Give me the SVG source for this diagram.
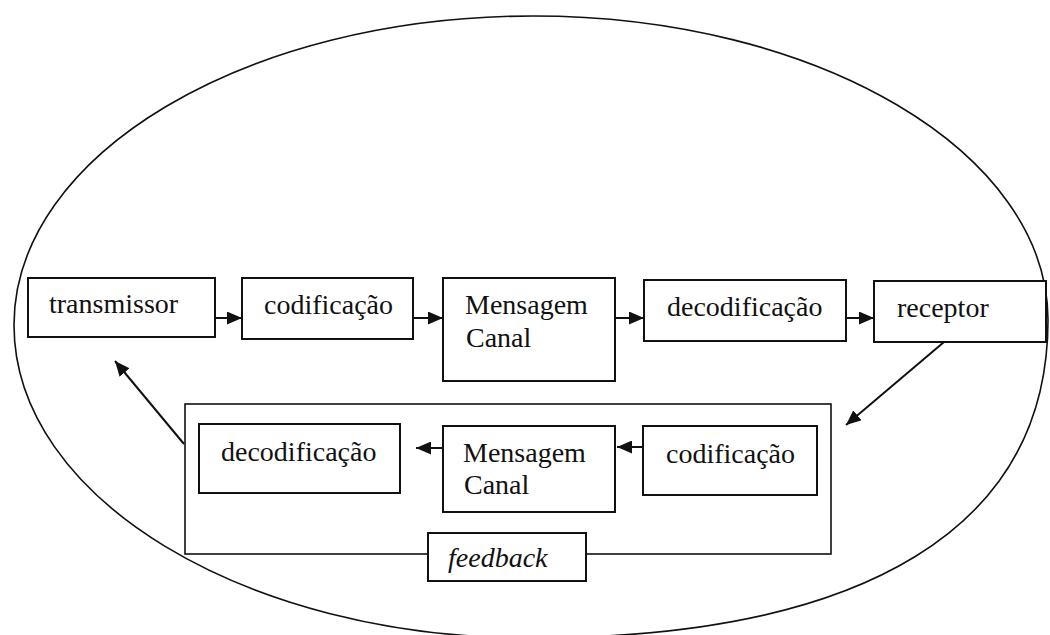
<svg xmlns="http://www.w3.org/2000/svg" width="1050" height="635" viewBox="0 0 1050 635">
  <style>
    .box { fill: #fff; stroke: #111; stroke-width: 2; }
    .frame { fill: none; stroke: #111; stroke-width: 1.6; }
    .lbl { font-family: "Liberation Serif", "Times New Roman", serif; font-size: 28px; fill: #111; }
    .it { font-style: italic; }
    .conn { fill: none; stroke: #111; stroke-width: 2; }
  </style>
  <defs>
    <marker id="ah" viewBox="0 0 15 13" refX="15" refY="6.5" markerWidth="15" markerHeight="13" markerUnits="userSpaceOnUse" orient="auto">
      <path d="M0,0 L15,6.5 L0,13 z" fill="#111"/>
    </marker>
  </defs>
  <rect width="1050" height="635" fill="#fff"/>

  <path id="ellipse" class="frame" d="M14,325 C14,154.3 246.4,16 533,16 C817.4,16 1048,152.1 1048,320 C1048,526.7 866.7,638 530,638 C245,638 14,497.9 14,325 Z"/>

  <g id="feedback-container">
    <rect class="frame" x="185" y="404" width="646" height="150"/>
  </g>

  <g id="transmissor">
    <rect class="box" x="28" y="278" width="187" height="59"/>
    <text class="lbl" x="49" y="313">transmissor</text>
  </g>
  <g id="codificacao1">
    <rect class="box" x="242" y="278" width="171" height="61"/>
    <text class="lbl" x="264" y="314">codificação</text>
  </g>
  <g id="mensagem1">
    <rect class="box" x="443" y="278" width="172" height="103"/>
    <text class="lbl" x="465" y="314">Mensagem</text>
    <text class="lbl" x="466" y="347">Canal</text>
  </g>
  <g id="decodificacao1">
    <rect class="box" x="644" y="280" width="202" height="61"/>
    <text class="lbl" x="667" y="316">decodificação</text>
  </g>
  <g id="receptor">
    <rect class="box" x="874" y="281" width="172" height="61"/>
    <text class="lbl" x="897" y="317">receptor</text>
  </g>

  <g id="decodificacao2">
    <rect class="box" x="199" y="424" width="201" height="69"/>
    <text class="lbl" x="221" y="461">decodificação</text>
  </g>
  <g id="mensagem2">
    <rect class="box" x="443" y="426" width="172" height="86"/>
    <text class="lbl" x="463" y="462">Mensagem</text>
    <text class="lbl" x="464" y="494">Canal</text>
  </g>
  <g id="codificacao2">
    <rect class="box" x="643" y="426" width="174" height="69"/>
    <text class="lbl" x="666" y="463">codificação</text>
  </g>
  <g id="feedback">
    <rect class="box" x="428" y="533" width="158" height="48" stroke-width="1.6"/>
    <text class="lbl it" x="448" y="567">feedback</text>
  </g>

  <g id="connectors">
    <line class="conn" x1="215" y1="318" x2="242" y2="318" marker-end="url(#ah)"/>
    <line class="conn" x1="413" y1="318" x2="443" y2="318" marker-end="url(#ah)"/>
    <line class="conn" x1="616" y1="318" x2="644" y2="318" marker-end="url(#ah)"/>
    <line class="conn" x1="846" y1="318" x2="874" y2="318" marker-end="url(#ah)"/>
    <line class="conn" x1="944" y1="342" x2="846" y2="425" marker-end="url(#ah)"/>
    <line class="conn" x1="643" y1="447" x2="617" y2="447" marker-end="url(#ah)"/>
    <line class="conn" x1="443" y1="448" x2="416" y2="448" marker-end="url(#ah)"/>
    <line class="conn" x1="184" y1="444" x2="115" y2="361" marker-end="url(#ah)"/>
  </g>
</svg>
